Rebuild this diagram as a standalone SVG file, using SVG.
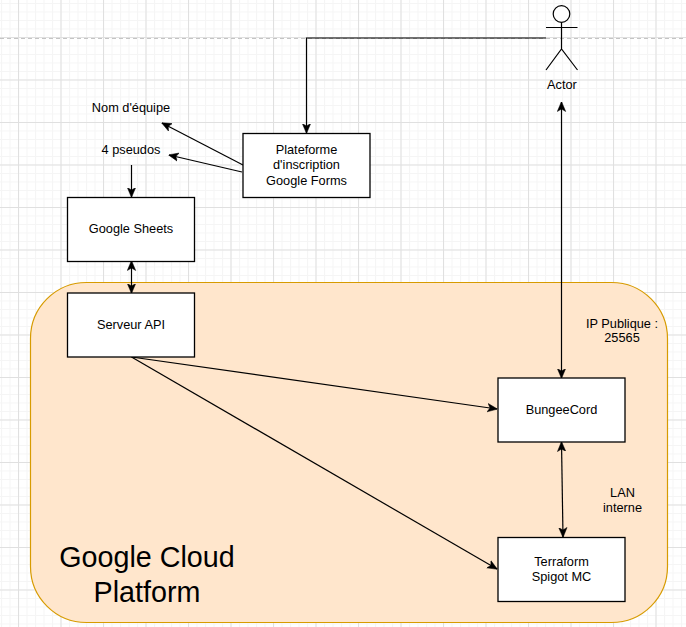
<svg xmlns="http://www.w3.org/2000/svg" width="686" height="627" viewBox="0 0 686 627">
<style>
.n{fill:#fff;stroke:#000;stroke-width:1.3}
.c{fill:none;stroke:#000;stroke-width:1.2}
text{font-family:"Liberation Sans",Arial,sans-serif;font-size:12.75px;fill:#000;text-anchor:middle}
.big{font-size:28.7px}
</style>
<defs>
<pattern id="minor" x="18" y="37" width="8.5" height="8.5" patternUnits="userSpaceOnUse"><path d="M0.5 0V8.5M0 0.5H8.5" fill="none" stroke="#f5f5f5" stroke-width="1.1"/></pattern>
<pattern id="major" x="18" y="37" width="42.5" height="42.5" patternUnits="userSpaceOnUse"><path d="M0.5 0V42.5M0 0.5H42.5" fill="none" stroke="#e0e0e0" stroke-width="1.1"/></pattern>
<marker id="a" viewBox="0 0 10 10" refX="9.5" refY="5" markerWidth="10" markerHeight="10" markerUnits="userSpaceOnUse" orient="auto-start-reverse"><path d="M0 0.8L10 5L0 9.2L2.5 5Z" fill="#000" stroke="#000" stroke-width="0.5"/></marker>
</defs>
<rect width="686" height="627" fill="#fff"/>
<rect width="686" height="627" fill="url(#minor)"/>
<rect width="686" height="627" fill="url(#major)"/>
<path d="M0 38.500H686" stroke="#c4c4c4" stroke-width="1" stroke-dasharray="4 3" fill="none"/>
<g id="gcp"><rect x="30.500" y="282.500" width="637" height="340" rx="56" ry="56" fill="#ffe6cc" stroke="#d79b00" stroke-width="1.2"/>
<text class="big" x="147" y="567">Google Cloud</text><text class="big" x="147" y="602">Platform</text></g>
<g id="connectors">
<path class="c" d="M546 38H306.500V133" marker-end="url(#a)"/>
<path class="c" d="M243 165L162 123" marker-end="url(#a)"/>
<path class="c" d="M242 172L169 155" marker-end="url(#a)"/>
<path class="c" d="M131.500 165V197" marker-end="url(#a)"/>
<path class="c" d="M131.500 261V293" marker-start="url(#a)" marker-end="url(#a)"/>
<path class="c" d="M561.500 102V378" marker-start="url(#a)" marker-end="url(#a)"/>
<path class="c" d="M131.500 357L497 409" marker-end="url(#a)"/>
<path class="c" d="M131.500 357L497 569" marker-end="url(#a)"/>
<path class="c" d="M561.500 442L563 537" marker-start="url(#a)" marker-end="url(#a)"/>
</g>
<g id="actor" fill="none" stroke="#000" stroke-width="1.2"><circle cx="561.500" cy="14" r="8.300" fill="#fff"/><path d="M561.500 22.500V49M546 27.500H577.500M546 70L561.500 49L577.500 70"/><text x="562" y="89" stroke="none" fill="#000">Actor</text></g>
<g id="nom"><text x="131" y="112">Nom d'équipe</text></g>
<g id="pseudos"><text x="131" y="154">4 pseudos</text></g>
<g id="forms"><rect class="n" x="243" y="133.500" width="127" height="64"/><text x="306.500" y="154">Plateforme</text><text x="306.500" y="169">d'inscription</text><text x="306.500" y="185">Google Forms</text></g>
<g id="sheets"><rect class="n" x="67.500" y="197.500" width="127" height="64"/><text x="131" y="233">Google Sheets</text></g>
<g id="api"><rect class="n" x="67.500" y="293" width="127" height="64"/><text x="131" y="329">Serveur API</text></g>
<g id="bungee"><rect class="n" x="498" y="378" width="127" height="64"/><text x="561.500" y="414">BungeeCord</text></g>
<g id="spigot"><rect class="n" x="498" y="537.500" width="127" height="64"/><text x="561.500" y="566">Terraform</text><text x="561.500" y="581">Spigot MC</text></g>
<g id="ip"><text x="622" y="328">IP Publique :</text><text x="622" y="342">25565</text></g>
<g id="lan"><text x="622.500" y="497">LAN</text><text x="622.500" y="512">interne</text></g>
</svg>
